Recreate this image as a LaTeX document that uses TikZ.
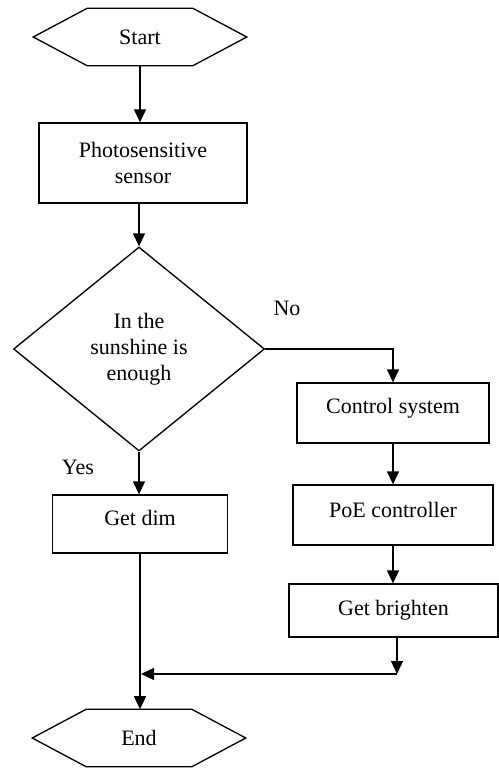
\documentclass[tikz,border=0pt]{standalone}
\usepackage{fontspec}
\setmainfont{Liberation Serif}
\usetikzlibrary{shapes.geometric,arrows.meta,calc}
\begin{document}
\begin{tikzpicture}[x=0.75pt,y=-0.75pt,
  every node/.style={font=\fontsize{16.5}{19.5}\selectfont},
  line/.style={line width=1pt},
  arr/.style={line width=1pt,-{Triangle[length=9.75pt,width=9pt]}},
  proc/.style={draw,line width=1pt,inner sep=0pt,align=center},
  term/.style={inner sep=0pt,minimum width=159.75pt,minimum height=42.75pt},
  lbl/.style={inner sep=0pt}]
\useasboundingbox (0,0) rectangle (499,768);
% terminals
\node[term] (start) at (140,37) {Start};
\draw[line] (start.west) -- ($(start.north west)+(54,0)$) -- ($(start.north east)+(-54,0)$)
  -- (start.east) -- ($(start.south east)+(-54,0)$) -- ($(start.south west)+(54,0)$) -- cycle;
\node[term] (end) at (139,738) {End};
\draw[line] (end.west) -- ($(end.north west)+(54,0)$) -- ($(end.north east)+(-54,0)$)
  -- (end.east) -- ($(end.south east)+(-54,0)$) -- ($(end.south west)+(54,0)$) -- cycle;
% processes
\node[proc,minimum width=156pt,minimum height=60pt] (sensor) at (143,163) {Photosensitive\\sensor};
\node[draw,diamond,line width=1pt,inner sep=0pt,aspect=1.23,minimum width=188.25pt,minimum height=153pt,align=center] (dec) at (139,349) {In the\\sunshine is\\enough};
\node[proc,minimum width=131.25pt,text height=22.5pt,text depth=21pt] (dim) at (140,524) {Get dim};
\node[proc,minimum width=144pt,text height=22.5pt,text depth=22.5pt] (ctrl) at (393,413) {Control system};
\node[proc,minimum width=150pt,text height=24pt,text depth=21pt] (poe) at (393,515) {PoE controller};
\node[proc,minimum width=156.75pt,text height=23.25pt,text depth=16.5pt] (bright) at (393.5,610.5) {Get brighten};
% labels
\node[lbl] (no) at (287,308) {No};
\node[lbl] (yes) at (78,467) {Yes};
% connectors
\coordinate (j) at (397,674);
\draw[arr] (start.south) -- (start.south |- sensor.north);
\draw[arr] (sensor.south -| dec.north) -- (dec.north);
\draw[arr] (dec.east) -| (ctrl.north);
\draw[arr] (dec.south) -- (dec.south |- dim.north);
\draw[arr] (ctrl.south) -- (ctrl.south |- poe.north);
\draw[arr] (poe.south) -- (poe.south |- bright.north);
\draw[arr] (bright.south -| j) -- (j);
\draw[arr] (j) -- ($(dim.south |- j)+(1,0)$);
\draw[arr] (dim.south) -- (dim.south |- end.north);
\end{tikzpicture}
\end{document}
